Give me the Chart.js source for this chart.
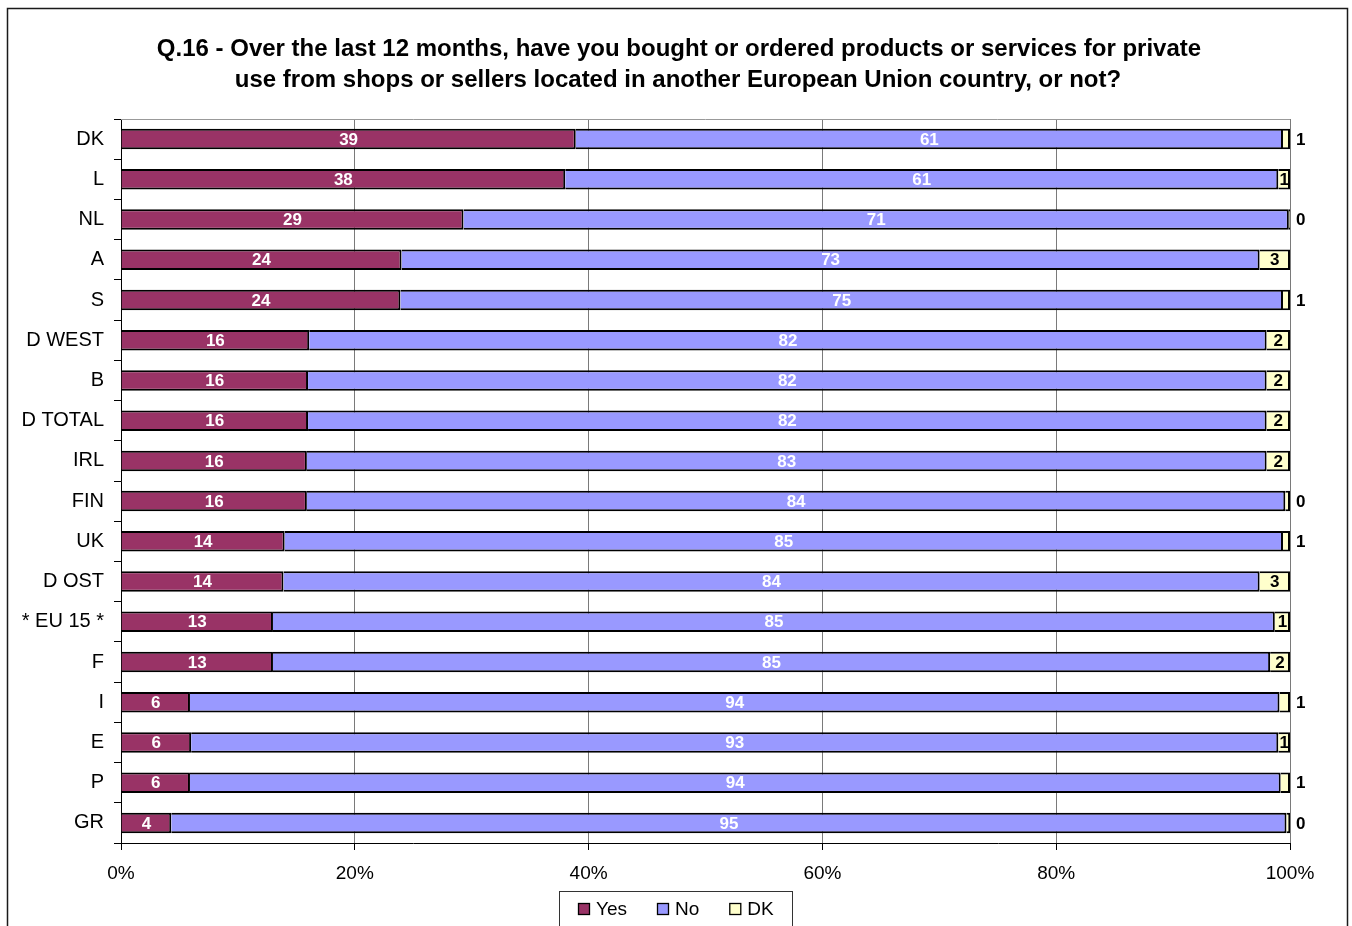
<!DOCTYPE html>
<html>
<head>
<meta charset="utf-8">
<title>Q.16 - Cross-border purchases</title>
<script src="https://cdn.jsdelivr.net/npm/chart.js@4.4.1/dist/chart.umd.min.js"></script>
<style>
  html, body { margin: 0; padding: 0; background: #fff; }
  #wrap { width: 1352px; height: 926px; position: relative; }
</style>
</head>
<body>
<div id="wrap"><canvas id="q16Chart" width="1352" height="926"></canvas></div>
<script>
// Kategori (negara), urut dari atas ke bawah
const countries = ['DK', 'L', 'NL', 'A', 'S', 'D WEST', 'B', 'D TOTAL', 'IRL', 'FIN',
  'UK', 'D OST', '* EU 15 *', 'F', 'I', 'E', 'P', 'GR'];

// Panjang segmen (% dari baris)
const yesShare = [38.9, 38.0, 29.3, 24.0, 23.9, 16.1, 16.0, 16.0, 15.9, 15.9,
  14.0, 13.9, 13.0, 13.0, 5.9, 6.0, 5.9, 4.3];
const noShare = [60.5, 61.0, 70.6, 73.4, 75.5, 81.9, 82.0, 82.0, 82.1, 83.7,
  85.4, 83.5, 85.7, 85.3, 93.2, 93.0, 93.3, 95.4];
const dkShare = [0.6, 1.0, 0.1, 2.6, 0.6, 2.0, 2.0, 2.0, 2.0, 0.4,
  0.6, 2.6, 1.3, 1.7, 0.9, 1.0, 0.8, 0.3];

// Angka yang tercetak di grafik
const yesLabel = [39, 38, 29, 24, 24, 16, 16, 16, 16, 16, 14, 14, 13, 13, 6, 6, 6, 4];
const noLabel = [61, 61, 71, 73, 75, 82, 82, 82, 83, 84, 85, 84, 85, 85, 94, 93, 94, 95];
const dkLabel = [1, 1, 0, 3, 1, 2, 2, 2, 2, 0, 1, 3, 1, 2, 1, 1, 1, 0];

const xTicks = [0, 20, 40, 60, 80, 100];

const titleLines = [
  'Q.16 - Over the last 12 months, have you bought or ordered products or services for private',
  'use from shops or sellers located in another European Union country, or not?'
];

const FONT = '"Liberation Sans", Arial, Helvetica, sans-serif';
const COLORS = { yes: '#993366', no: '#9999ff', dk: '#ffffcc' };

// Bingkai luar, judul, garis atas area plot
const framePlugin = {
  id: 'frame',
  beforeDraw(chart) {
    const ctx = chart.ctx;
    ctx.save();
    ctx.fillStyle = '#fff';
    ctx.fillRect(0, 0, chart.width, chart.height);
    ctx.strokeStyle = '#1a1a1a';
    ctx.lineWidth = 1.5;
    ctx.strokeRect(7.5, 8.5, 1340, 960);

    ctx.fillStyle = '#000';
    ctx.font = 'bold 24px ' + FONT;
    ctx.textAlign = 'center';
    ctx.textBaseline = 'alphabetic';
    ctx.fillText(titleLines[0], 679, 56);
    ctx.fillText(titleLines[1], 678, 87);
    ctx.restore();
  },
  beforeDatasetsDraw(chart) {
    const { ctx, chartArea } = chart;
    ctx.save();
    ctx.strokeStyle = '#999';
    ctx.lineWidth = 1;
    ctx.beginPath();
    ctx.moveTo(chartArea.left, chartArea.top + 0.5);
    ctx.lineTo(chartArea.right, chartArea.top + 0.5);
    ctx.stroke();
    ctx.restore();
  }
};

// Angka di dalam / di samping batang
const valueLabelPlugin = {
  id: 'valueLabels',
  afterDatasetsDraw(chart) {
    const ctx = chart.ctx;
    const printed = [yesLabel, noLabel, dkLabel];
    ctx.save();
    ctx.font = 'bold 17px ' + FONT;
    ctx.textBaseline = 'middle';
    chart.data.datasets.forEach((ds, di) => {
      const meta = chart.getDatasetMeta(di);
      meta.data.forEach((bar, i) => {
        const txt = String(printed[di][i]);
        const w = bar.x - bar.base;
        ctx.fillStyle = di === 2 ? '#000' : '#fff';
        if (di === 2 && w < 11) {
          ctx.textAlign = 'left';
          ctx.fillText(txt, bar.x + 6, bar.y + 1);
        } else {
          ctx.textAlign = 'center';
          ctx.fillText(txt, (bar.x + bar.base) / 2, bar.y + 1);
        }
      });
    });
    ctx.restore();
  }
};

// Legenda dengan kotak
const legendBoxPlugin = {
  id: 'legendBox',
  afterDraw(chart) {
    const ctx = chart.ctx;
    ctx.save();
    ctx.strokeStyle = '#333';
    ctx.lineWidth = 1;
    ctx.strokeRect(559.5, 891.5, 233, 60);

    ctx.font = '19px ' + FONT;
    ctx.textBaseline = 'alphabetic';
    ctx.textAlign = 'left';
    const items = chart.data.datasets.map(ds => ({
      label: ds.label, color: ds.backgroundColor, w: 12 + 6 + ctx.measureText(ds.label).width
    }));
    const gap = 30;
    const total = items.reduce((s, it) => s + it.w, 0) + gap * (items.length - 1);
    let x = Math.round(676 - total / 2);
    items.forEach(it => {
      ctx.fillStyle = it.color;
      ctx.fillRect(x, 903, 12, 12);
      ctx.strokeStyle = '#000';
      ctx.lineWidth = 1.3;
      ctx.strokeRect(x + 0.5, 903.5, 11, 11);
      ctx.fillStyle = '#000';
      ctx.fillText(it.label, x + 18, 915);
      x += it.w + gap;
    });
    ctx.restore();
  }
};

const barStyle = {
  borderColor: '#000',
  borderWidth: 2,
  borderSkipped: 'start',
  barPercentage: 0.51,
  categoryPercentage: 1.0
};

const ctx = document.getElementById('q16Chart').getContext('2d');
const q16Chart = new Chart(ctx, {
  type: 'bar',
  data: {
    labels: countries,
    datasets: [
      Object.assign({ label: 'Yes', data: yesShare, backgroundColor: COLORS.yes }, barStyle),
      Object.assign({ label: 'No', data: noShare, backgroundColor: COLORS.no }, barStyle),
      Object.assign({ label: 'DK', data: dkShare, backgroundColor: COLORS.dk }, barStyle)
    ]
  },
  options: {
    indexAxis: 'y',
    responsive: false,
    animation: false,
    layout: { padding: { top: 119, right: 62, bottom: 0, left: 0 } },
    plugins: {
      legend: { display: false },
      title: { display: false },
      tooltip: { enabled: false }
    },
    scales: {
      x: {
        stacked: true,
        min: 0,
        max: 100,
        afterBuildTicks(scale) {
          scale.ticks = xTicks.map(v => ({ value: v }));
        },
        afterFit(scale) { scale.height = 83; },
        ticks: {
          callback: v => v + '%',
          color: '#000',
          font: { family: FONT, size: 19 },
          padding: 12,
          maxRotation: 0
        },
        grid: { color: '#7a7a7a', lineWidth: 1, tickColor: '#000', tickLength: 7 },
        border: { color: '#000', width: 1 }
      },
      y: {
        stacked: true,
        z: 1,
        afterFit(scale) { scale.width = 121; },
        ticks: {
          color: '#000',
          font: { family: FONT, size: 20 },
          padding: 10
        },
        grid: { drawOnChartArea: false, offset: true, color: '#000', tickLength: 7 },
        border: { color: '#000', width: 1 }
      }
    }
  },
  plugins: [framePlugin, valueLabelPlugin, legendBoxPlugin]
});
</script>
</body>
</html>
